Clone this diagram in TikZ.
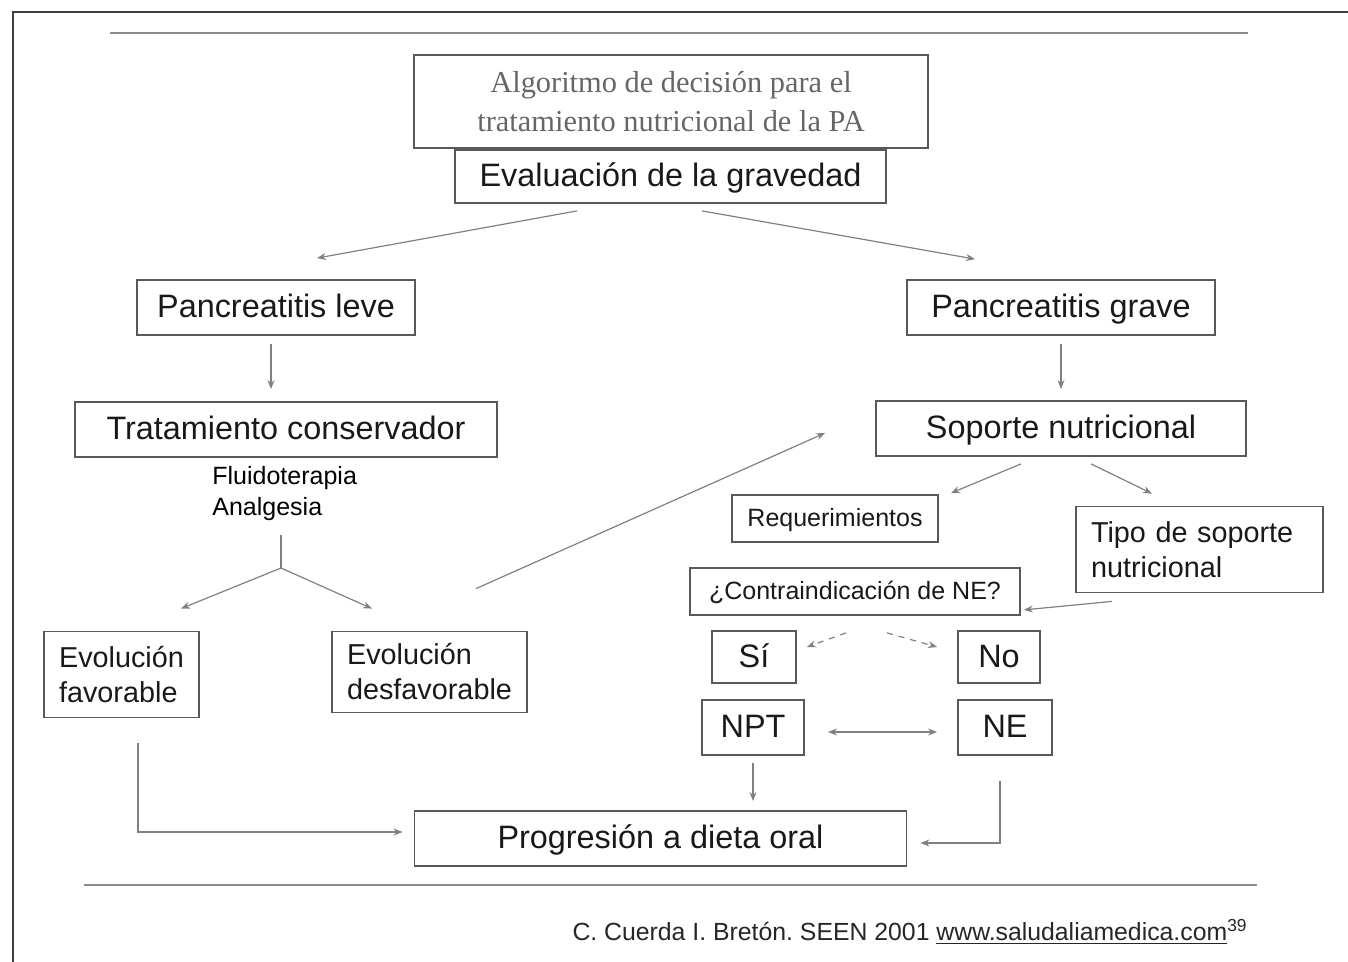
\documentclass[tikz,border=0pt]{standalone}
\usepackage{fontspec}
\setmainfont{Liberation Sans}
\newfontfamily\titlefont{Liberation Serif}
\usetikzlibrary{arrows.meta}
\frenchspacing

\begin{document}
\begin{tikzpicture}[x=0.5pt,y=-0.5pt]

\tikzset{caja/.style = {draw=black!65, line width=0.9pt, inner sep=0pt, text=black!90},
         grande/.style = {caja, font=\fontsize{16.2}{19}\selectfont, text height=11.8pt, text depth=1.4pt},
         media/.style = {caja, font=\fontsize{14.4}{17.5}\selectfont, align=left},
         chica/.style = {caja, font=\fontsize{12.5}{15}\selectfont, text height=9.1pt, text depth=1.1pt},
         linea/.style = {draw=black!50, line width=0.6pt},
         flecha/.style = {linea, -{Stealth[length=4.5pt,width=3.5pt]}},
         regla/.style = {draw=black!45, line width=1.4pt}}

\useasboundingbox (0,0) rectangle (1348,962);

\draw[draw=black!75, line width=1.2pt] (13,962) -- (13,12) -- (1348,12);
\draw[regla] (110,33) -- (1248,33);
\draw[regla] (84,885) -- (1257,885);

\node[caja, align=center, minimum width=257pt, minimum height=46.5pt, text=black!60,
      font=\titlefont\fontsize{15.2}{19.5}\selectfont] (titulo) at (671,101.5)
      {Algoritmo de decisión para el\\tratamiento nutricional de la PA};
\node[grande, minimum width=215.5pt, minimum height=26.5pt] (evaluacion) at (670.5,176.5) {Evaluación de la gravedad};

\node[grande, minimum width=139pt, minimum height=27.5pt] (leve) at (276,307.5) {Pancreatitis leve};
\node[grande, minimum width=154pt, minimum height=27.5pt] (grave) at (1061,307.5) {Pancreatitis grave};
\node[grande, minimum width=211pt, minimum height=27.5pt] (conservador) at (286,429.5) {Tratamiento conservador};
\node[grande, minimum width=185pt, minimum height=27.5pt] (soporte) at (1061,428.5) {Soporte nutricional};

\node[anchor=west, inner sep=0pt, align=left, font=\fontsize{12.5}{15.5}\selectfont] (medidas) at (212,494)
      {Fluidoterapia\\Analgesia};

\node[chica, minimum width=103pt, minimum height=23.5pt] (requerimientos) at (835,518.5) {Requerimientos};
\node[media, text width=108.5pt, inner xsep=7.5pt, minimum height=43pt] (tipo) at (1199.5,549.5)
      {Tipo de soporte\\nutricional};
\node[chica, minimum width=165pt, minimum height=23.5pt] (contra) at (855,591.5) {¿Contraindicación de NE?};

\node[grande, minimum width=42pt, minimum height=26pt] (si) at (754,657) {Sí};
\node[grande, minimum width=41pt, minimum height=26pt] (no) at (999,657) {No};
\node[grande, minimum width=51pt, minimum height=27.5pt] (npt) at (753,727.5) {NPT};
\node[grande, minimum width=47pt, minimum height=27.5pt] (ne) at (1005,727.5) {NE};

\node[media, minimum width=77.5pt, minimum height=43pt] (favorable) at (121.5,674.5) {Evolución\\favorable};
\node[media, minimum width=97.5pt, minimum height=40.5pt] (desfavorable) at (429.5,672) {Evolución\\desfavorable};

\node[grande, minimum width=246pt, minimum height=27.5pt] (progresion) at (660.5,838.5) {Progresión a dieta oral};

\node[anchor=east, inner sep=0pt, font=\fontsize{12.4}{15}\selectfont, text=black!85] (fuente) at (1248,932)
      {C. Cuerda I. Bretón. SEEN 2001 \underline{www.saludaliamedica.com}\textsuperscript{39}};

\coordinate (ramatope) at (281,535);
\coordinate (rama) at (281,568);

\draw[flecha] ([shift={(-93.5,7)}]evaluacion.south) -- ([shift={(41,-21)}]leve.north);
\draw[flecha] ([shift={(31.5,7)}]evaluacion.south) -- ([shift={(-86,-20)}]grave.north);

\draw[flecha] ([shift={(-5,8)}]leve.south) -- ([shift={(-15,-12)}]conservador.north);
\draw[flecha] ([shift={(0,8)}]grave.south) -- ([shift={(0,-11)}]soporte.north);

\draw[linea] (ramatope) -- (rama);
\draw[flecha] (rama) -- ([shift={(59.5,-22)}]favorable.north);
\draw[flecha] (rama) -- ([shift={(-57.5,-22)}]desfavorable.north);

\draw[flecha] ([shift={(46.5,-42)}]desfavorable.north) -- ([shift={(-50,4.5)}]soporte.west);

\draw[flecha] ([shift={(-40,7)}]soporte.south) -- ([shift={(12,-1)}]requerimientos.north east);
\draw[flecha] ([shift={(30,7)}]soporte.south) -- ([shift={(-47.5,-12)}]tipo.north);
\draw[flecha] ([shift={(-87.5,8)}]tipo.south) -- ([shift={(3,-6)}]contra.south east);

\draw[flecha, dashed] ([shift={(-9,17)}]contra.south) -- ([shift={(10,-10)}]si.east);
\draw[flecha, dashed] ([shift={(32,17)}]contra.south) -- ([shift={(-20,-10)}]no.west);

\draw[linea, {Stealth[length=4.5pt,width=3.5pt]}-{Stealth[length=4.5pt,width=3.5pt]}]
      ([shift={(23,4.5)}]npt.east) -- ([shift={(-20,4.5)}]ne.west);

\draw[flecha] ([shift={(0,7)}]npt.south) -- ([shift={(92.5,-9)}]progresion.north);
\draw[flecha] ([shift={(-5,25)}]ne.south) |- ([shift={(13,4.5)}]progresion.east);
\draw[flecha] ([shift={(16.5,25)}]favorable.south) |- ([shift={(-11,-6.5)}]progresion.west);

\end{tikzpicture}
\end{document}
